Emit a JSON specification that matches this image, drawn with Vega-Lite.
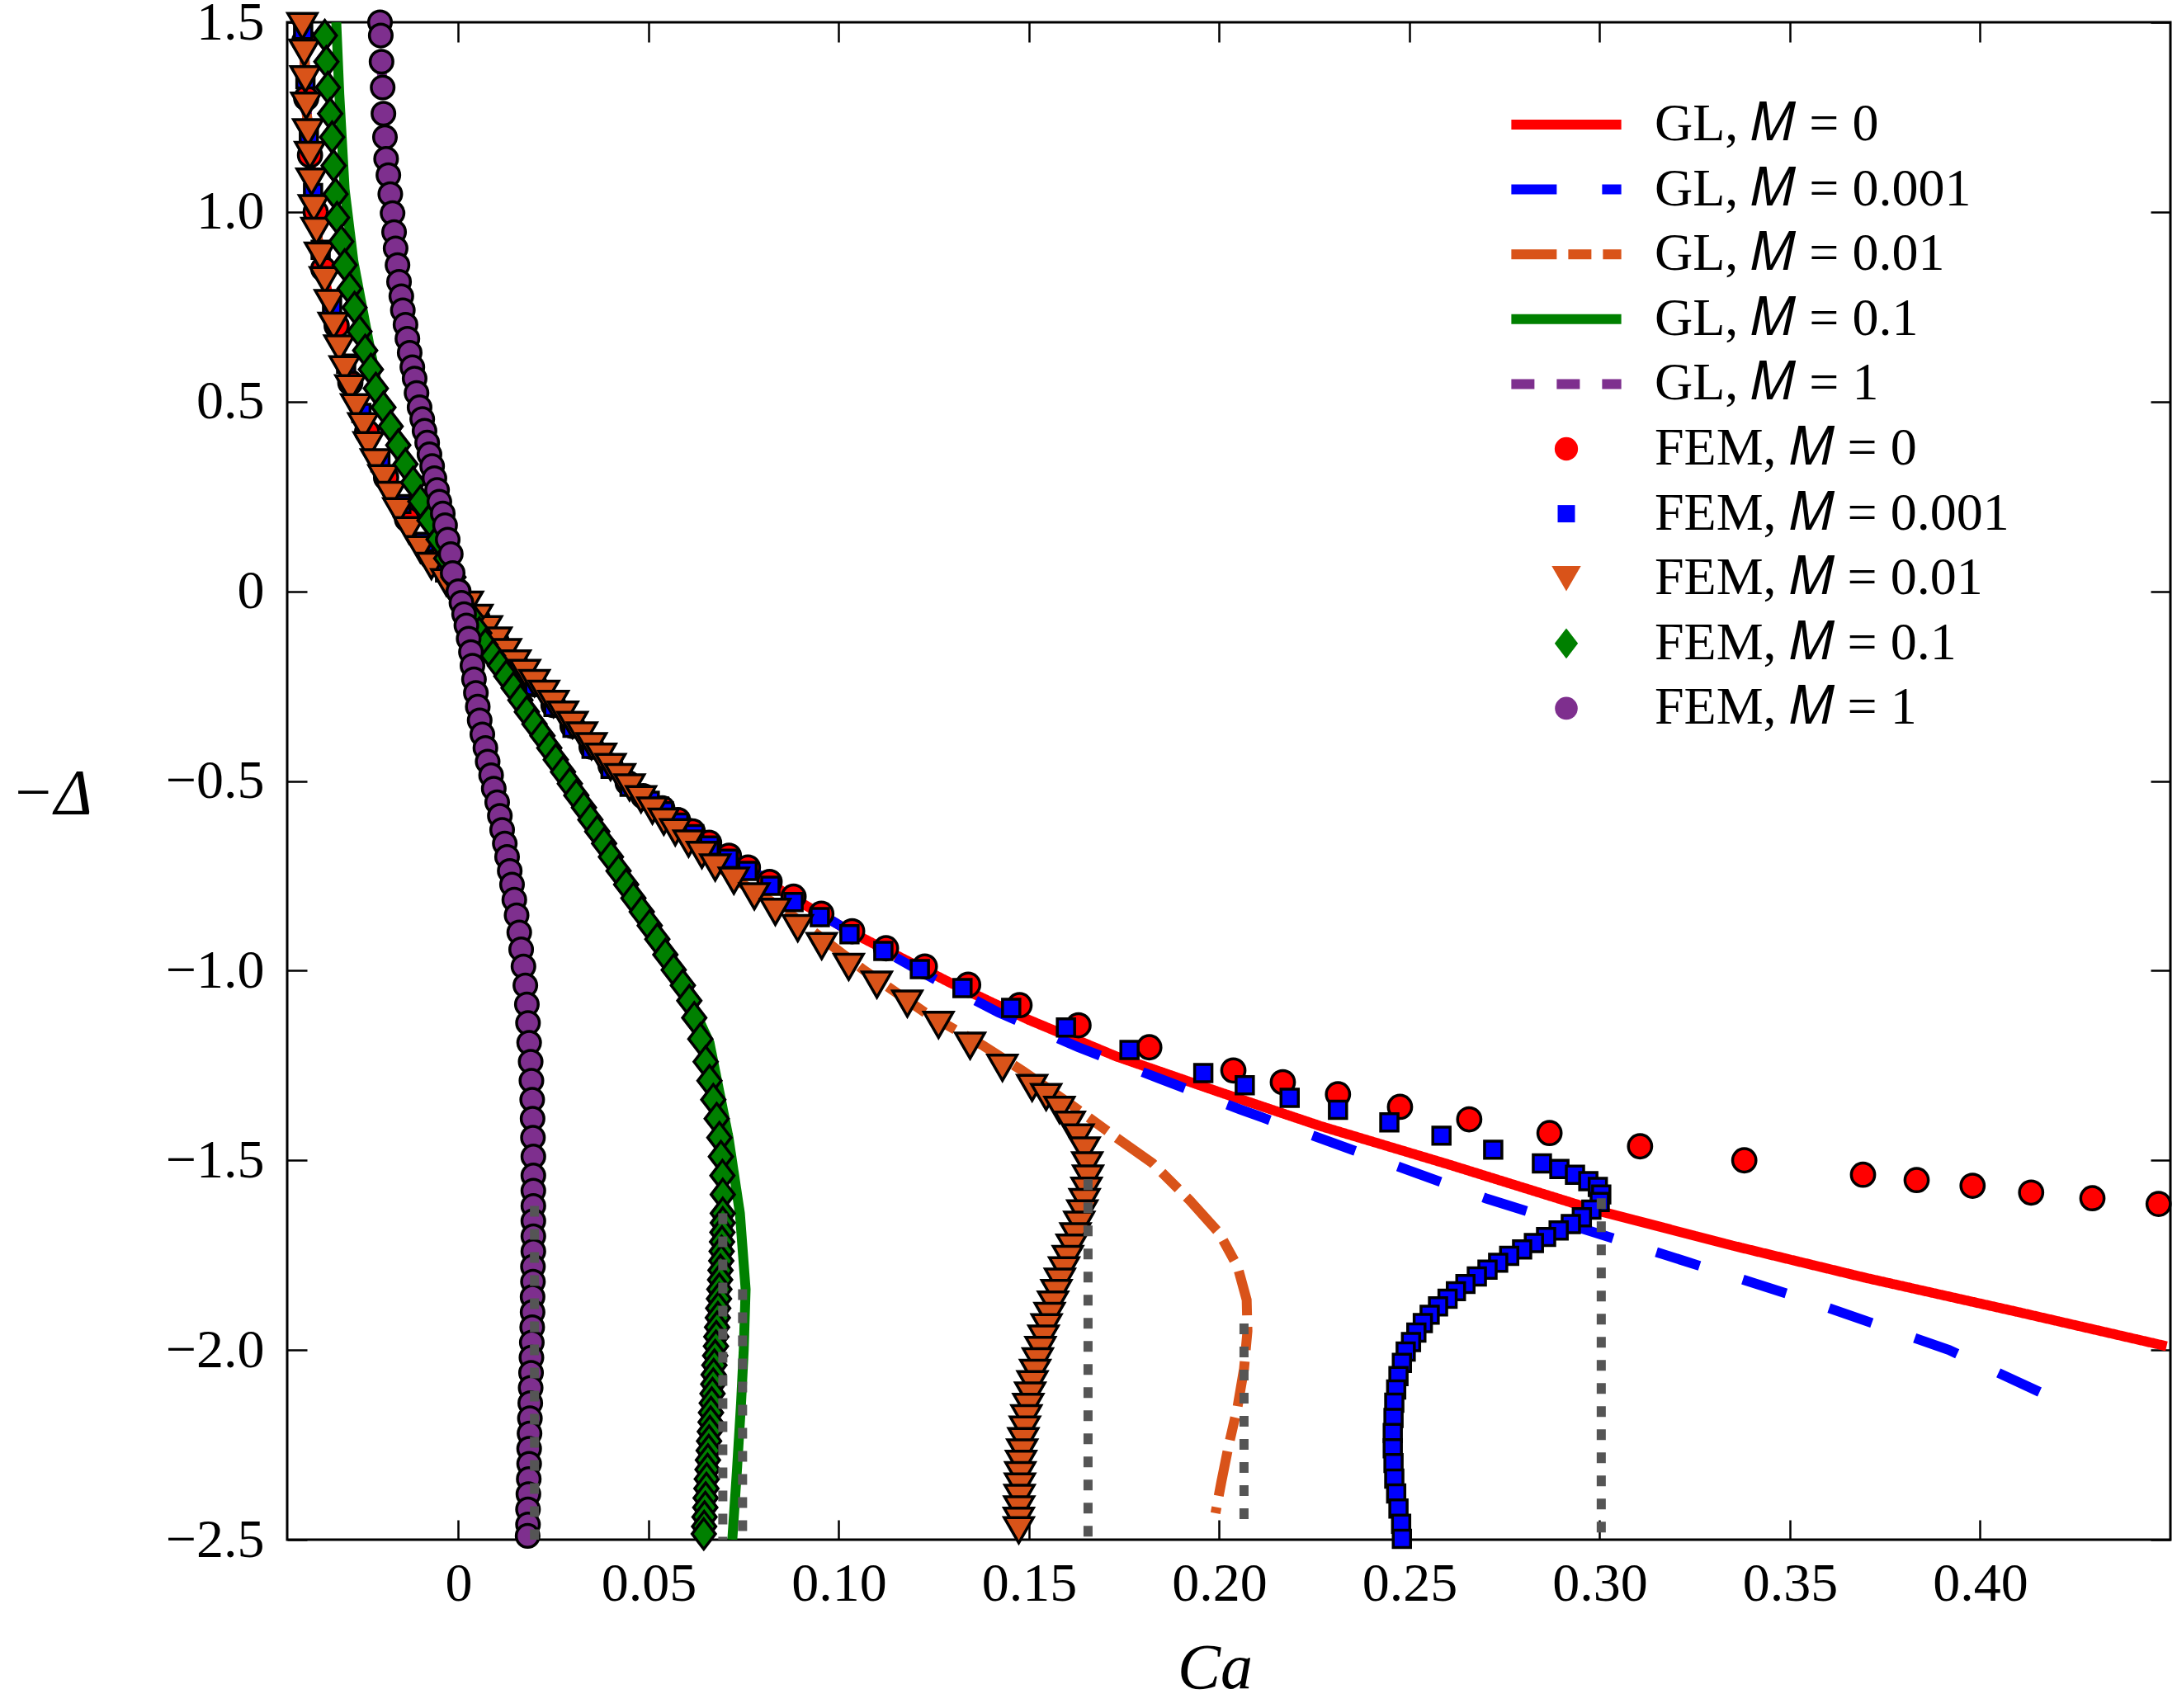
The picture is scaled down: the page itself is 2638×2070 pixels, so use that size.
{
  "$schema": "https://vega.github.io/schema/vega-lite/v6.json",
  "width": 2282,
  "height": 1839,
  "autosize": {"type": "none"},
  "padding": {"left": 348, "top": 27, "right": 8, "bottom": 204},
  "background": "white",
  "config": {
    "font": "Liberation Serif",
    "view": {"stroke": "black", "strokeWidth": 3},
    "axis": {
      "domain": false, "grid": false, "ticks": true, "tickSize": -24, "tickWidth": 2.5, "tickColor": "black",
      "labelFont": "Liberation Serif", "labelFontSize": 66, "labelColor": "black",
      "titleFont": "Liberation Serif", "titleFontSize": 78, "titleFontStyle": "italic", "titleFontWeight": "normal", "titleColor": "black"
    },
    "legend": {"labelFont": "Liberation Serif", "labelFontSize": 64, "labelColor": "black", "labelLimit": 1000, "padding": 0, "rowPadding": 14.6}
  },
  "datasets": {
    "gl": [
      {"M":"0","i":0,"ca":-0.041,"d":1.5},{"M":"0","i":1,"ca":-0.0405,"d":1.42},{"M":"0","i":2,"ca":-0.04,"d":1.28},{"M":"0","i":3,"ca":-0.039,"d":1.15},{"M":"0","i":4,"ca":-0.038,"d":1.01},{"M":"0","i":5,"ca":-0.0364,"d":0.885},{"M":"0","i":6,"ca":-0.0338,"d":0.76},{"M":"0","i":7,"ca":-0.0313,"d":0.64},{"M":"0","i":8,"ca":-0.0284,"d":0.535},{"M":"0","i":9,"ca":-0.025,"d":0.435},{"M":"0","i":10,"ca":-0.0217,"d":0.34},{"M":"0","i":11,"ca":-0.0178,"d":0.254},{"M":"0","i":12,"ca":-0.013,"d":0.161},{"M":"0","i":13,"ca":-0.0071,"d":0.067},{"M":"0","i":14,"ca":0,"d":0},
      {"M":"0","i":15,"ca":0.005,"d":-0.07},{"M":"0","i":16,"ca":0.01,"d":-0.13},{"M":"0","i":17,"ca":0.015,"d":-0.19},{"M":"0","i":18,"ca":0.02,"d":-0.242},{"M":"0","i":19,"ca":0.025,"d":-0.297},{"M":"0","i":20,"ca":0.03,"d":-0.352},{"M":"0","i":21,"ca":0.035,"d":-0.408},{"M":"0","i":22,"ca":0.04,"d":-0.463},{"M":"0","i":23,"ca":0.045,"d":-0.515},
      {"M":"0","i":24,"ca":0.0536,"d":-0.578},{"M":"0","i":25,"ca":0.0659,"d":-0.663},{"M":"0","i":26,"ca":0.0761,"d":-0.728},{"M":"0","i":27,"ca":0.0857,"d":-0.795},{"M":"0","i":28,"ca":0.1035,"d":-0.9},{"M":"0","i":29,"ca":0.1293,"d":-1.032},{"M":"0","i":30,"ca":0.15,"d":-1.13},{"M":"0","i":31,"ca":0.1729,"d":-1.226},{"M":"0","i":32,"ca":0.2,"d":-1.32},{"M":"0","i":33,"ca":0.2267,"d":-1.41},{"M":"0","i":34,"ca":0.26,"d":-1.51},{"M":"0","i":35,"ca":0.2985,"d":-1.63},{"M":"0","i":36,"ca":0.335,"d":-1.725},{"M":"0","i":37,"ca":0.37,"d":-1.81},{"M":"0","i":38,"ca":0.41,"d":-1.9},{"M":"0","i":39,"ca":0.449,"d":-1.99},

      {"M":"0.001","i":0,"ca":-0.041,"d":1.5},{"M":"0.001","i":1,"ca":-0.0405,"d":1.42},{"M":"0.001","i":2,"ca":-0.04,"d":1.28},{"M":"0.001","i":3,"ca":-0.039,"d":1.15},{"M":"0.001","i":4,"ca":-0.038,"d":1.01},{"M":"0.001","i":5,"ca":-0.0364,"d":0.885},{"M":"0.001","i":6,"ca":-0.0338,"d":0.76},{"M":"0.001","i":7,"ca":-0.0313,"d":0.64},{"M":"0.001","i":8,"ca":-0.0284,"d":0.535},{"M":"0.001","i":9,"ca":-0.025,"d":0.435},{"M":"0.001","i":10,"ca":-0.0217,"d":0.34},{"M":"0.001","i":11,"ca":-0.0178,"d":0.254},{"M":"0.001","i":12,"ca":-0.013,"d":0.161},{"M":"0.001","i":13,"ca":-0.0071,"d":0.067},{"M":"0.001","i":14,"ca":0,"d":0},
      {"M":"0.001","i":15,"ca":0.005,"d":-0.07},{"M":"0.001","i":16,"ca":0.01,"d":-0.13},{"M":"0.001","i":17,"ca":0.015,"d":-0.19},{"M":"0.001","i":18,"ca":0.02,"d":-0.242},{"M":"0.001","i":19,"ca":0.025,"d":-0.297},{"M":"0.001","i":20,"ca":0.03,"d":-0.352},{"M":"0.001","i":21,"ca":0.035,"d":-0.408},{"M":"0.001","i":22,"ca":0.04,"d":-0.463},{"M":"0.001","i":23,"ca":0.045,"d":-0.515},
      {"M":"0.001","i":24,"ca":0.0536,"d":-0.578},{"M":"0.001","i":25,"ca":0.0659,"d":-0.663},{"M":"0.001","i":26,"ca":0.0761,"d":-0.728},{"M":"0.001","i":27,"ca":0.0857,"d":-0.795},{"M":"0.001","i":28,"ca":0.1035,"d":-0.9},{"M":"0.001","i":29,"ca":0.1234,"d":-1.013},{"M":"0.001","i":30,"ca":0.1419,"d":-1.11},{"M":"0.001","i":31,"ca":0.163,"d":-1.202},{"M":"0.001","i":32,"ca":0.1844,"d":-1.285},{"M":"0.001","i":33,"ca":0.2058,"d":-1.367},{"M":"0.001","i":34,"ca":0.226,"d":-1.44},{"M":"0.001","i":35,"ca":0.27,"d":-1.6},{"M":"0.001","i":36,"ca":0.3093,"d":-1.724},{"M":"0.001","i":37,"ca":0.3516,"d":-1.859},{"M":"0.001","i":38,"ca":0.3918,"d":-2.0},{"M":"0.001","i":39,"ca":0.4176,"d":-2.12},

      {"M":"0.01","i":0,"ca":-0.041,"d":1.5},{"M":"0.01","i":1,"ca":-0.0405,"d":1.42},{"M":"0.01","i":2,"ca":-0.04,"d":1.28},{"M":"0.01","i":3,"ca":-0.039,"d":1.15},{"M":"0.01","i":4,"ca":-0.038,"d":1.01},{"M":"0.01","i":5,"ca":-0.0364,"d":0.885},{"M":"0.01","i":6,"ca":-0.0338,"d":0.76},{"M":"0.01","i":7,"ca":-0.0313,"d":0.64},{"M":"0.01","i":8,"ca":-0.0284,"d":0.535},{"M":"0.01","i":9,"ca":-0.025,"d":0.435},{"M":"0.01","i":10,"ca":-0.0217,"d":0.34},{"M":"0.01","i":11,"ca":-0.0178,"d":0.254},{"M":"0.01","i":12,"ca":-0.013,"d":0.161},{"M":"0.01","i":13,"ca":-0.0071,"d":0.067},{"M":"0.01","i":14,"ca":0,"d":0},
      {"M":"0.01","i":15,"ca":0.005,"d":-0.07},{"M":"0.01","i":16,"ca":0.01,"d":-0.13},{"M":"0.01","i":17,"ca":0.015,"d":-0.19},{"M":"0.01","i":18,"ca":0.02,"d":-0.242},{"M":"0.01","i":19,"ca":0.025,"d":-0.297},{"M":"0.01","i":20,"ca":0.03,"d":-0.352},{"M":"0.01","i":21,"ca":0.035,"d":-0.408},{"M":"0.01","i":22,"ca":0.04,"d":-0.463},{"M":"0.01","i":23,"ca":0.045,"d":-0.515},
      {"M":"0.01","i":24,"ca":0.05,"d":-0.565},{"M":"0.01","i":25,"ca":0.06,"d":-0.655},{"M":"0.01","i":26,"ca":0.072,"d":-0.755},{"M":"0.01","i":27,"ca":0.0857,"d":-0.839},{"M":"0.01","i":28,"ca":0.1065,"d":-0.998},{"M":"0.01","i":29,"ca":0.1226,"d":-1.11},{"M":"0.01","i":30,"ca":0.138,"d":-1.198},{"M":"0.01","i":31,"ca":0.1486,"d":-1.266},{"M":"0.01","i":32,"ca":0.161,"d":-1.353},{"M":"0.01","i":33,"ca":0.1729,"d":-1.44},{"M":"0.01","i":34,"ca":0.1825,"d":-1.508},{"M":"0.01","i":35,"ca":0.1922,"d":-1.605},{"M":"0.01","i":36,"ca":0.2,"d":-1.692},{"M":"0.01","i":37,"ca":0.2048,"d":-1.78},{"M":"0.01","i":38,"ca":0.2072,"d":-1.868},{"M":"0.01","i":39,"ca":0.2074,"d":-1.95},{"M":"0.01","i":40,"ca":0.2065,"d":-2.05},{"M":"0.01","i":41,"ca":0.2048,"d":-2.15},{"M":"0.01","i":42,"ca":0.2025,"d":-2.25},{"M":"0.01","i":43,"ca":0.2005,"d":-2.35},{"M":"0.01","i":44,"ca":0.199,"d":-2.43},

      {"M":"0.1","i":0,"ca":-0.0321,"d":1.5},{"M":"0.1","i":1,"ca":-0.0313,"d":1.31},{"M":"0.1","i":2,"ca":-0.0299,"d":1.06},{"M":"0.1","i":3,"ca":-0.0276,"d":0.87},{"M":"0.1","i":4,"ca":-0.024,"d":0.68},{"M":"0.1","i":5,"ca":-0.0205,"d":0.5},{"M":"0.1","i":6,"ca":-0.015,"d":0.34},{"M":"0.1","i":7,"ca":-0.009,"d":0.2},{"M":"0.1","i":8,"ca":-0.004,"d":0.09},{"M":"0.1","i":9,"ca":0,"d":0},{"M":"0.1","i":10,"ca":0.0071,"d":-0.141},{"M":"0.1","i":11,"ca":0.0163,"d":-0.287},{"M":"0.1","i":12,"ca":0.0256,"d":-0.444},{"M":"0.1","i":13,"ca":0.0347,"d":-0.602},{"M":"0.1","i":14,"ca":0.0441,"d":-0.773},{"M":"0.1","i":15,"ca":0.0523,"d":-0.917},{"M":"0.1","i":16,"ca":0.059,"d":-1.039},{"M":"0.1","i":17,"ca":0.066,"d":-1.19},{"M":"0.1","i":18,"ca":0.071,"d":-1.44},{"M":"0.1","i":19,"ca":0.074,"d":-1.64},{"M":"0.1","i":20,"ca":0.0755,"d":-1.84},{"M":"0.1","i":21,"ca":0.075,"d":-2.0},{"M":"0.1","i":22,"ca":0.0743,"d":-2.14},{"M":"0.1","i":23,"ca":0.0732,"d":-2.32},{"M":"0.1","i":24,"ca":0.072,"d":-2.5},

      {"M":"1","i":0,"ca":-0.0206,"d":1.5},{"M":"1","i":1,"ca":-0.0197,"d":1.259},{"M":"1","i":2,"ca":-0.0179,"d":1.047},{"M":"1","i":3,"ca":-0.016,"d":0.86},{"M":"1","i":4,"ca":-0.0139,"d":0.703},{"M":"1","i":5,"ca":-0.0115,"d":0.561},{"M":"1","i":6,"ca":-0.0089,"d":0.423},{"M":"1","i":7,"ca":-0.0063,"d":0.298},{"M":"1","i":8,"ca":-0.0041,"d":0.205},{"M":"1","i":9,"ca":-0.002,"d":0.098},{"M":"1","i":10,"ca":0,"d":0},{"M":"1","i":11,"ca":0.0033,"d":-0.16},{"M":"1","i":12,"ca":0.0051,"d":-0.304},{"M":"1","i":13,"ca":0.0077,"d":-0.449},{"M":"1","i":14,"ca":0.0102,"d":-0.556},{"M":"1","i":15,"ca":0.0122,"d":-0.665},{"M":"1","i":16,"ca":0.0141,"d":-0.773},{"M":"1","i":17,"ca":0.016,"d":-0.899},{"M":"1","i":18,"ca":0.0176,"d":-1.039},{"M":"1","i":19,"ca":0.0186,"d":-1.19},{"M":"1","i":20,"ca":0.0195,"d":-1.39},{"M":"1","i":21,"ca":0.0198,"d":-1.6},{"M":"1","i":22,"ca":0.0196,"d":-1.8},{"M":"1","i":23,"ca":0.0192,"d":-2.0},{"M":"1","i":24,"ca":0.0188,"d":-2.2},{"M":"1","i":25,"ca":0.0184,"d":-2.4},{"M":"1","i":26,"ca":0.0182,"d":-2.5}
    ],
    "fem": [
      {"F":"m0","ca":-0.0405,"d":1.45},{"F":"m0","ca":-0.04,"d":1.3},{"F":"m0","ca":-0.039,"d":1.15},{"F":"m0","ca":-0.0375,"d":1.0},{"F":"m0","ca":-0.0355,"d":0.85},{"F":"m0","ca":-0.032,"d":0.7},{"F":"m0","ca":-0.0284,"d":0.55},{"F":"m0","ca":-0.024,"d":0.42},{"F":"m0","ca":-0.019,"d":0.3},{"F":"m0","ca":-0.0135,"d":0.19},{"F":"m0","ca":-0.007,"d":0.09},{"F":"m0","ca":0,"d":0},
      {"F":"m0","ca":0.005,"d":-0.07},{"F":"m0","ca":0.01,"d":-0.13},{"F":"m0","ca":0.015,"d":-0.19},{"F":"m0","ca":0.02,"d":-0.245},{"F":"m0","ca":0.025,"d":-0.3},{"F":"m0","ca":0.03,"d":-0.355},{"F":"m0","ca":0.035,"d":-0.41},{"F":"m0","ca":0.04,"d":-0.46},{"F":"m0","ca":0.0445,"d":-0.505},{"F":"m0","ca":0.0486,"d":-0.54},{"F":"m0","ca":0.0536,"d":-0.572},{"F":"m0","ca":0.0577,"d":-0.603},{"F":"m0","ca":0.0616,"d":-0.633},{"F":"m0","ca":0.0659,"d":-0.663},{"F":"m0","ca":0.0711,"d":-0.697},{"F":"m0","ca":0.0761,"d":-0.728},{"F":"m0","ca":0.0818,"d":-0.766},{"F":"m0","ca":0.0881,"d":-0.805},{"F":"m0","ca":0.0954,"d":-0.85},{"F":"m0","ca":0.1035,"d":-0.896},{"F":"m0","ca":0.1124,"d":-0.941},{"F":"m0","ca":0.1226,"d":-0.989},{"F":"m0","ca":0.134,"d":-1.037},{"F":"m0","ca":0.1475,"d":-1.091},{"F":"m0","ca":0.163,"d":-1.144},{"F":"m0","ca":0.1816,"d":-1.202},{"F":"m0","ca":0.2037,"d":-1.263},{"F":"m0","ca":0.2167,"d":-1.294},{"F":"m0","ca":0.2312,"d":-1.326},{"F":"m0","ca":0.2475,"d":-1.359},{"F":"m0","ca":0.2657,"d":-1.392},{"F":"m0","ca":0.2868,"d":-1.428},{"F":"m0","ca":0.3106,"d":-1.463},{"F":"m0","ca":0.338,"d":-1.5},{"F":"m0","ca":0.3692,"d":-1.538},{"F":"m0","ca":0.3833,"d":-1.552},{"F":"m0","ca":0.398,"d":-1.567},{"F":"m0","ca":0.4134,"d":-1.585},{"F":"m0","ca":0.4295,"d":-1.6},{"F":"m0","ca":0.4469,"d":-1.615},

      {"F":"m0.001","ca":-0.0408,"d":1.48},{"F":"m0.001","ca":-0.0402,"d":1.35},{"F":"m0.001","ca":-0.0393,"d":1.2},{"F":"m0.001","ca":-0.0382,"d":1.05},{"F":"m0.001","ca":-0.0362,"d":0.9},{"F":"m0.001","ca":-0.0332,"d":0.75},{"F":"m0.001","ca":-0.0295,"d":0.6},{"F":"m0.001","ca":-0.0255,"d":0.47},{"F":"m0.001","ca":-0.0205,"d":0.34},{"F":"m0.001","ca":-0.015,"d":0.23},{"F":"m0.001","ca":-0.009,"d":0.13},{"F":"m0.001","ca":-0.0035,"d":0.05},
      {"F":"m0.001","ca":0.005,"d":-0.075},{"F":"m0.001","ca":0.01,"d":-0.135},{"F":"m0.001","ca":0.015,"d":-0.195},{"F":"m0.001","ca":0.02,"d":-0.25},{"F":"m0.001","ca":0.025,"d":-0.305},{"F":"m0.001","ca":0.03,"d":-0.36},{"F":"m0.001","ca":0.035,"d":-0.415},{"F":"m0.001","ca":0.04,"d":-0.468},{"F":"m0.001","ca":0.045,"d":-0.515},{"F":"m0.001","ca":0.0503,"d":-0.552},{"F":"m0.001","ca":0.054,"d":-0.58},{"F":"m0.001","ca":0.058,"d":-0.61},{"F":"m0.001","ca":0.062,"d":-0.64},{"F":"m0.001","ca":0.066,"d":-0.67},{"F":"m0.001","ca":0.071,"d":-0.705},{"F":"m0.001","ca":0.076,"d":-0.737},{"F":"m0.001","ca":0.082,"d":-0.776},{"F":"m0.001","ca":0.0881,"d":-0.819},{"F":"m0.001","ca":0.095,"d":-0.859},{"F":"m0.001","ca":0.1028,"d":-0.904},{"F":"m0.001","ca":0.1117,"d":-0.948},{"F":"m0.001","ca":0.1213,"d":-0.996},{"F":"m0.001","ca":0.1325,"d":-1.046},{"F":"m0.001","ca":0.1453,"d":-1.098},{"F":"m0.001","ca":0.1597,"d":-1.15},{"F":"m0.001","ca":0.1764,"d":-1.209},{"F":"m0.001","ca":0.1958,"d":-1.27},{"F":"m0.001","ca":0.2067,"d":-1.302},{"F":"m0.001","ca":0.2185,"d":-1.335},{"F":"m0.001","ca":0.2312,"d":-1.367},{"F":"m0.001","ca":0.2447,"d":-1.4},{"F":"m0.001","ca":0.2584,"d":-1.435},{"F":"m0.001","ca":0.272,"d":-1.472},{"F":"m0.001","ca":0.2848,"d":-1.508},{"F":"m0.001","ca":0.2894,"d":-1.523},{"F":"m0.001","ca":0.2935,"d":-1.538},{"F":"m0.001","ca":0.297,"d":-1.555},{"F":"m0.001","ca":0.2995,"d":-1.57},{"F":"m0.001","ca":0.3004,"d":-1.59},{"F":"m0.001","ca":0.3,"d":-1.61},{"F":"m0.001","ca":0.2978,"d":-1.63},{"F":"m0.001","ca":0.2953,"d":-1.65},{"F":"m0.001","ca":0.2924,"d":-1.668},{"F":"m0.001","ca":0.2892,"d":-1.685},{"F":"m0.001","ca":0.2859,"d":-1.702},{"F":"m0.001","ca":0.2827,"d":-1.718},{"F":"m0.001","ca":0.2796,"d":-1.735},{"F":"m0.001","ca":0.2762,"d":-1.752},{"F":"m0.001","ca":0.2733,"d":-1.77},{"F":"m0.001","ca":0.2705,"d":-1.788},{"F":"m0.001","ca":0.2677,"d":-1.806},{"F":"m0.001","ca":0.2647,"d":-1.826},{"F":"m0.001","ca":0.2622,"d":-1.845},{"F":"m0.001","ca":0.26,"d":-1.865},{"F":"m0.001","ca":0.2575,"d":-1.885},{"F":"m0.001","ca":0.2553,"d":-1.907},{"F":"m0.001","ca":0.2535,"d":-1.929},{"F":"m0.001","ca":0.2518,"d":-1.954},{"F":"m0.001","ca":0.2504,"d":-1.979},{"F":"m0.001","ca":0.249,"d":-2.004},{"F":"m0.001","ca":0.248,"d":-2.034},{"F":"m0.001","ca":0.2471,"d":-2.069},{"F":"m0.001","ca":0.2465,"d":-2.104},{"F":"m0.001","ca":0.246,"d":-2.139},{"F":"m0.001","ca":0.2458,"d":-2.179},{"F":"m0.001","ca":0.2456,"d":-2.219},{"F":"m0.001","ca":0.2456,"d":-2.259},{"F":"m0.001","ca":0.2458,"d":-2.298},{"F":"m0.001","ca":0.246,"d":-2.339},{"F":"m0.001","ca":0.2465,"d":-2.378},{"F":"m0.001","ca":0.2471,"d":-2.418},{"F":"m0.001","ca":0.2478,"d":-2.458},{"F":"m0.001","ca":0.248,"d":-2.498},

      {"F":"m0.01","ca":-0.041,"d":1.49},{"F":"m0.01","ca":-0.0405,"d":1.42},{"F":"m0.01","ca":-0.0402,"d":1.35},{"F":"m0.01","ca":-0.04,"d":1.28},{"F":"m0.01","ca":-0.0395,"d":1.21},{"F":"m0.01","ca":-0.039,"d":1.15},{"F":"m0.01","ca":-0.0386,"d":1.08},{"F":"m0.01","ca":-0.038,"d":1.01},{"F":"m0.01","ca":-0.0373,"d":0.95},{"F":"m0.01","ca":-0.0364,"d":0.885},{"F":"m0.01","ca":-0.0351,"d":0.82},{"F":"m0.01","ca":-0.0338,"d":0.76},{"F":"m0.01","ca":-0.0328,"d":0.7},{"F":"m0.01","ca":-0.0313,"d":0.64},{"F":"m0.01","ca":-0.0299,"d":0.585},{"F":"m0.01","ca":-0.0284,"d":0.535},{"F":"m0.01","ca":-0.0269,"d":0.485},{"F":"m0.01","ca":-0.025,"d":0.435},{"F":"m0.01","ca":-0.0236,"d":0.385},{"F":"m0.01","ca":-0.0217,"d":0.34},{"F":"m0.01","ca":-0.0197,"d":0.298},{"F":"m0.01","ca":-0.0178,"d":0.254},{"F":"m0.01","ca":-0.0158,"d":0.211},{"F":"m0.01","ca":-0.013,"d":0.161},{"F":"m0.01","ca":-0.01,"d":0.111},{"F":"m0.01","ca":-0.0071,"d":0.067},{"F":"m0.01","ca":-0.0032,"d":0.024},
      {"F":"m0.01","ca":0.0025,"d":-0.035},{"F":"m0.01","ca":0.005,"d":-0.07},{"F":"m0.01","ca":0.0075,"d":-0.1},{"F":"m0.01","ca":0.01,"d":-0.13},{"F":"m0.01","ca":0.0125,"d":-0.16},{"F":"m0.01","ca":0.015,"d":-0.19},{"F":"m0.01","ca":0.0175,"d":-0.215},{"F":"m0.01","ca":0.02,"d":-0.242},{"F":"m0.01","ca":0.0225,"d":-0.27},{"F":"m0.01","ca":0.025,"d":-0.297},{"F":"m0.01","ca":0.0275,"d":-0.325},{"F":"m0.01","ca":0.03,"d":-0.352},{"F":"m0.01","ca":0.0325,"d":-0.38},{"F":"m0.01","ca":0.035,"d":-0.408},{"F":"m0.01","ca":0.0375,"d":-0.436},{"F":"m0.01","ca":0.04,"d":-0.463},{"F":"m0.01","ca":0.0425,"d":-0.49},{"F":"m0.01","ca":0.045,"d":-0.517},{"F":"m0.01","ca":0.048,"d":-0.548},{"F":"m0.01","ca":0.051,"d":-0.578},{"F":"m0.01","ca":0.054,"d":-0.607},{"F":"m0.01","ca":0.057,"d":-0.635},{"F":"m0.01","ca":0.0605,"d":-0.665},{"F":"m0.01","ca":0.064,"d":-0.695},{"F":"m0.01","ca":0.0675,"d":-0.728},{"F":"m0.01","ca":0.0724,"d":-0.763},{"F":"m0.01","ca":0.0778,"d":-0.804},{"F":"m0.01","ca":0.0833,"d":-0.845},{"F":"m0.01","ca":0.0892,"d":-0.888},{"F":"m0.01","ca":0.0955,"d":-0.935},{"F":"m0.01","ca":0.1026,"d":-0.99},{"F":"m0.01","ca":0.11,"d":-1.037},{"F":"m0.01","ca":0.118,"d":-1.087},{"F":"m0.01","ca":0.1262,"d":-1.143},{"F":"m0.01","ca":0.1345,"d":-1.198},{"F":"m0.01","ca":0.143,"d":-1.256},{"F":"m0.01","ca":0.1508,"d":-1.309},{"F":"m0.01","ca":0.1545,"d":-1.333},{"F":"m0.01","ca":0.158,"d":-1.367},{"F":"m0.01","ca":0.1607,"d":-1.406},{"F":"m0.01","ca":0.163,"d":-1.44},{"F":"m0.01","ca":0.1646,"d":-1.474},{"F":"m0.01","ca":0.1653,"d":-1.513},{"F":"m0.01","ca":0.1655,"d":-1.548},
      {"F":"m0.01","ca":0.1651,"d":-1.58},{"F":"m0.01","ca":0.1646,"d":-1.61},{"F":"m0.01","ca":0.164,"d":-1.64},{"F":"m0.01","ca":0.1632,"d":-1.67},{"F":"m0.01","ca":0.1622,"d":-1.7},{"F":"m0.01","ca":0.1612,"d":-1.73},{"F":"m0.01","ca":0.1602,"d":-1.76},{"F":"m0.01","ca":0.1592,"d":-1.79},{"F":"m0.01","ca":0.1581,"d":-1.82},{"F":"m0.01","ca":0.1572,"d":-1.85},{"F":"m0.01","ca":0.1563,"d":-1.88},{"F":"m0.01","ca":0.1554,"d":-1.91},{"F":"m0.01","ca":0.1546,"d":-1.94},{"F":"m0.01","ca":0.1538,"d":-1.97},{"F":"m0.01","ca":0.153,"d":-2.0},{"F":"m0.01","ca":0.1523,"d":-2.03},{"F":"m0.01","ca":0.1516,"d":-2.06},{"F":"m0.01","ca":0.1509,"d":-2.09},{"F":"m0.01","ca":0.1503,"d":-2.12},{"F":"m0.01","ca":0.1498,"d":-2.15},{"F":"m0.01","ca":0.1493,"d":-2.18},{"F":"m0.01","ca":0.1489,"d":-2.21},{"F":"m0.01","ca":0.1485,"d":-2.24},{"F":"m0.01","ca":0.1482,"d":-2.27},{"F":"m0.01","ca":0.1479,"d":-2.3},{"F":"m0.01","ca":0.1477,"d":-2.33},{"F":"m0.01","ca":0.1476,"d":-2.36},{"F":"m0.01","ca":0.1475,"d":-2.39},{"F":"m0.01","ca":0.1474,"d":-2.42},{"F":"m0.01","ca":0.1473,"d":-2.45},{"F":"m0.01","ca":0.1473,"d":-2.475},

      {"F":"m0.1","ca":-0.0351,"d":1.465},{"F":"m0.1","ca":-0.0347,"d":1.396},{"F":"m0.1","ca":-0.0343,"d":1.328},{"F":"m0.1","ca":-0.0337,"d":1.259},{"F":"m0.1","ca":-0.0332,"d":1.197},{"F":"m0.1","ca":-0.0328,"d":1.122},{"F":"m0.1","ca":-0.0323,"d":1.047},{"F":"m0.1","ca":-0.0319,"d":0.985},{"F":"m0.1","ca":-0.0308,"d":0.922},{"F":"m0.1","ca":-0.0299,"d":0.86},{"F":"m0.1","ca":-0.0286,"d":0.798},{"F":"m0.1","ca":-0.0273,"d":0.748},{"F":"m0.1","ca":-0.026,"d":0.685},{"F":"m0.1","ca":-0.0245,"d":0.635},{"F":"m0.1","ca":-0.023,"d":0.585},{"F":"m0.1","ca":-0.0217,"d":0.535},{"F":"m0.1","ca":-0.0197,"d":0.485},{"F":"m0.1","ca":-0.0178,"d":0.435},{"F":"m0.1","ca":-0.0158,"d":0.385},{"F":"m0.1","ca":-0.0139,"d":0.335},{"F":"m0.1","ca":-0.0119,"d":0.287},{"F":"m0.1","ca":-0.01,"d":0.237},{"F":"m0.1","ca":-0.0076,"d":0.187},{"F":"m0.1","ca":-0.0052,"d":0.137},{"F":"m0.1","ca":-0.0032,"d":0.087},{"F":"m0.1","ca":-0.0013,"d":0.037},{"F":"m0.1","ca":0,"d":0},
      {"F":"m0.1","ca":0.0035,"d":-0.07},{"F":"m0.1","ca":0.0055,"d":-0.11},{"F":"m0.1","ca":0.0071,"d":-0.141},{"F":"m0.1","ca":0.0091,"d":-0.17},{"F":"m0.1","ca":0.0109,"d":-0.196},{"F":"m0.1","ca":0.0126,"d":-0.224},{"F":"m0.1","ca":0.0145,"d":-0.255},{"F":"m0.1","ca":0.0163,"d":-0.287},{"F":"m0.1","ca":0.018,"d":-0.318},{"F":"m0.1","ca":0.02,"d":-0.35},{"F":"m0.1","ca":0.0221,"d":-0.381},{"F":"m0.1","ca":0.0239,"d":-0.413},{"F":"m0.1","ca":0.0256,"d":-0.444},{"F":"m0.1","ca":0.0275,"d":-0.476},{"F":"m0.1","ca":0.0293,"d":-0.507},{"F":"m0.1","ca":0.031,"d":-0.538},{"F":"m0.1","ca":0.033,"d":-0.57},{"F":"m0.1","ca":0.0347,"d":-0.602},{"F":"m0.1","ca":0.0365,"d":-0.633},{"F":"m0.1","ca":0.0383,"d":-0.665},{"F":"m0.1","ca":0.0401,"d":-0.7},{"F":"m0.1","ca":0.0421,"d":-0.737},{"F":"m0.1","ca":0.0441,"d":-0.773},{"F":"m0.1","ca":0.046,"d":-0.809},{"F":"m0.1","ca":0.0482,"d":-0.845},{"F":"m0.1","ca":0.0503,"d":-0.881},{"F":"m0.1","ca":0.0523,"d":-0.917},{"F":"m0.1","ca":0.0544,"d":-0.958},{"F":"m0.1","ca":0.0566,"d":-0.998},{"F":"m0.1","ca":0.059,"d":-1.039},{"F":"m0.1","ca":0.0607,"d":-1.079},{"F":"m0.1","ca":0.062,"d":-1.124},
      {"F":"m0.1","ca":0.0636,"d":-1.18},{"F":"m0.1","ca":0.065,"d":-1.24},{"F":"m0.1","ca":0.066,"d":-1.29},{"F":"m0.1","ca":0.067,"d":-1.34},{"F":"m0.1","ca":0.0679,"d":-1.39},{"F":"m0.1","ca":0.0686,"d":-1.44},{"F":"m0.1","ca":0.069,"d":-1.49},{"F":"m0.1","ca":0.0694,"d":-1.54},{"F":"m0.1","ca":0.0695,"d":-1.59},{"F":"m0.1","ca":0.0695,"d":-1.64},
      {"F":"m0.1","ca":0.0695,"d":-1.665},{"F":"m0.1","ca":0.0694,"d":-1.69},{"F":"m0.1","ca":0.0693,"d":-1.715},{"F":"m0.1","ca":0.0692,"d":-1.74},{"F":"m0.1","ca":0.0691,"d":-1.765},{"F":"m0.1","ca":0.0689,"d":-1.79},{"F":"m0.1","ca":0.0688,"d":-1.815},{"F":"m0.1","ca":0.0686,"d":-1.84},{"F":"m0.1","ca":0.0685,"d":-1.865},{"F":"m0.1","ca":0.0683,"d":-1.89},{"F":"m0.1","ca":0.0682,"d":-1.915},{"F":"m0.1","ca":0.068,"d":-1.94},{"F":"m0.1","ca":0.0678,"d":-1.965},{"F":"m0.1","ca":0.0677,"d":-1.99},{"F":"m0.1","ca":0.0675,"d":-2.015},{"F":"m0.1","ca":0.0673,"d":-2.04},{"F":"m0.1","ca":0.0671,"d":-2.065},{"F":"m0.1","ca":0.067,"d":-2.09},{"F":"m0.1","ca":0.0668,"d":-2.115},{"F":"m0.1","ca":0.0666,"d":-2.14},{"F":"m0.1","ca":0.0664,"d":-2.165},{"F":"m0.1","ca":0.0663,"d":-2.19},{"F":"m0.1","ca":0.0661,"d":-2.215},{"F":"m0.1","ca":0.0659,"d":-2.24},{"F":"m0.1","ca":0.0658,"d":-2.265},{"F":"m0.1","ca":0.0656,"d":-2.29},{"F":"m0.1","ca":0.0655,"d":-2.315},{"F":"m0.1","ca":0.0653,"d":-2.34},{"F":"m0.1","ca":0.0652,"d":-2.365},{"F":"m0.1","ca":0.065,"d":-2.39},{"F":"m0.1","ca":0.0649,"d":-2.415},{"F":"m0.1","ca":0.0647,"d":-2.44},{"F":"m0.1","ca":0.0646,"d":-2.465},{"F":"m0.1","ca":0.0645,"d":-2.485},

      {"F":"m1","ca":-0.0206,"d":1.5},{"F":"m1","ca":-0.0204,"d":1.465},{"F":"m1","ca":-0.0202,"d":1.396},{"F":"m1","ca":-0.0199,"d":1.328},{"F":"m1","ca":-0.0197,"d":1.259},{"F":"m1","ca":-0.0193,"d":1.197},{"F":"m1","ca":-0.019,"d":1.14},{"F":"m1","ca":-0.0184,"d":1.097},{"F":"m1","ca":-0.0179,"d":1.047},{"F":"m1","ca":-0.0173,"d":0.997},{"F":"m1","ca":-0.0169,"d":0.947},{"F":"m1","ca":-0.0165,"d":0.904},{"F":"m1","ca":-0.016,"d":0.86},{"F":"m1","ca":-0.0156,"d":0.816},{"F":"m1","ca":-0.015,"d":0.778},{"F":"m1","ca":-0.0146,"d":0.741},{"F":"m1","ca":-0.0139,"d":0.703},{"F":"m1","ca":-0.0134,"d":0.666},{"F":"m1","ca":-0.0128,"d":0.629},{"F":"m1","ca":-0.0121,"d":0.591},{"F":"m1","ca":-0.0115,"d":0.561},{"F":"m1","ca":-0.011,"d":0.523},{"F":"m1","ca":-0.0102,"d":0.485},{"F":"m1","ca":-0.0095,"d":0.454},{"F":"m1","ca":-0.0089,"d":0.423},{"F":"m1","ca":-0.0082,"d":0.392},{"F":"m1","ca":-0.0076,"d":0.361},{"F":"m1","ca":-0.0069,"d":0.33},{"F":"m1","ca":-0.0063,"d":0.298},{"F":"m1","ca":-0.0056,"d":0.267},{"F":"m1","ca":-0.005,"d":0.236},{"F":"m1","ca":-0.0041,"d":0.205},{"F":"m1","ca":-0.0035,"d":0.174},{"F":"m1","ca":-0.0028,"d":0.136},{"F":"m1","ca":-0.002,"d":0.098},{"F":"m1","ca":-0.0015,"d":0.048},{"F":"m1","ca":0,"d":0},
      {"F":"m1","ca":0.0008,"d":-0.03},{"F":"m1","ca":0.0015,"d":-0.06},{"F":"m1","ca":0.0021,"d":-0.09},{"F":"m1","ca":0.0027,"d":-0.125},{"F":"m1","ca":0.0033,"d":-0.16},{"F":"m1","ca":0.0037,"d":-0.196},{"F":"m1","ca":0.0041,"d":-0.232},{"F":"m1","ca":0.0046,"d":-0.268},{"F":"m1","ca":0.0051,"d":-0.304},{"F":"m1","ca":0.0056,"d":-0.34},{"F":"m1","ca":0.0063,"d":-0.377},{"F":"m1","ca":0.0071,"d":-0.413},{"F":"m1","ca":0.0077,"d":-0.449},{"F":"m1","ca":0.0086,"d":-0.485},{"F":"m1","ca":0.0093,"d":-0.52},{"F":"m1","ca":0.0102,"d":-0.556},{"F":"m1","ca":0.0109,"d":-0.592},{"F":"m1","ca":0.0115,"d":-0.629},{"F":"m1","ca":0.0122,"d":-0.665},{"F":"m1","ca":0.0128,"d":-0.7},{"F":"m1","ca":0.0135,"d":-0.737},{"F":"m1","ca":0.0141,"d":-0.773},{"F":"m1","ca":0.0147,"d":-0.813},{"F":"m1","ca":0.0153,"d":-0.854},{"F":"m1","ca":0.016,"d":-0.899},{"F":"m1","ca":0.0165,"d":-0.944},{"F":"m1","ca":0.0171,"d":-0.989},{"F":"m1","ca":0.0176,"d":-1.039},{"F":"m1","ca":0.018,"d":-1.089},{"F":"m1","ca":0.0183,"d":-1.138},
      {"F":"m1","ca":0.0186,"d":-1.19},{"F":"m1","ca":0.019,"d":-1.24},{"F":"m1","ca":0.0192,"d":-1.29},{"F":"m1","ca":0.0194,"d":-1.34},{"F":"m1","ca":0.0195,"d":-1.39},{"F":"m1","ca":0.0196,"d":-1.44},{"F":"m1","ca":0.0197,"d":-1.49},{"F":"m1","ca":0.0197,"d":-1.54},{"F":"m1","ca":0.0197,"d":-1.58},{"F":"m1","ca":0.0197,"d":-1.62},{"F":"m1","ca":0.0197,"d":-1.66},{"F":"m1","ca":0.0197,"d":-1.7},{"F":"m1","ca":0.0197,"d":-1.74},{"F":"m1","ca":0.0196,"d":-1.78},{"F":"m1","ca":0.0196,"d":-1.82},{"F":"m1","ca":0.0195,"d":-1.86},{"F":"m1","ca":0.0195,"d":-1.9},{"F":"m1","ca":0.0194,"d":-1.94},{"F":"m1","ca":0.0193,"d":-1.98},{"F":"m1","ca":0.0192,"d":-2.02},{"F":"m1","ca":0.0191,"d":-2.06},{"F":"m1","ca":0.019,"d":-2.1},{"F":"m1","ca":0.0189,"d":-2.14},{"F":"m1","ca":0.0188,"d":-2.18},{"F":"m1","ca":0.0187,"d":-2.22},{"F":"m1","ca":0.0186,"d":-2.26},{"F":"m1","ca":0.0186,"d":-2.3},{"F":"m1","ca":0.0185,"d":-2.34},{"F":"m1","ca":0.0184,"d":-2.38},{"F":"m1","ca":0.0183,"d":-2.42},{"F":"m1","ca":0.0183,"d":-2.46},{"F":"m1","ca":0.0182,"d":-2.49}
    ],
    "asym": [
      {"ca":0.02,"d":-1.62,"d2":-2.5},
      {"ca":0.0695,"d":-1.64,"d2":-2.5},
      {"ca":0.0747,"d":-1.84,"d2":-2.5},
      {"ca":0.1655,"d":-1.55,"d2":-2.5},
      {"ca":0.2065,"d":-1.93,"d2":-2.46},
      {"ca":0.3004,"d":-1.6,"d2":-2.5}
    ]
  },
  "resolve": {"axis": {"x": "independent", "y": "independent"}},
  "layer": [
    {
      "data": {"name": "gl"},
      "mark": {"type": "line", "strokeWidth": 12, "clip": true, "strokeCap": "butt"},
      "encoding": {
        "x": {"field": "ca", "type": "quantitative", "title": "Ca",
          "scale": {"domain": [-0.045, 0.45], "nice": false, "zero": false},
          "axis": {"orient": "bottom", "values": [0, 0.05, 0.1, 0.15, 0.2, 0.25, 0.3, 0.35, 0.4],
            "labelExpr": "datum.value == 0 ? '0' : format(datum.value, '.2f')", "labelPadding": 45,
            "titleX": 1124, "titleY": 179, "titleAlign": "center", "titleBaseline": "alphabetic"}},
        "y": {"field": "d", "type": "quantitative", "title": "−Δ",
          "scale": {"domain": [-2.5, 1.5], "nice": false, "zero": false},
          "axis": {"orient": "left", "values": [-2.5, -2, -1.5, -1, -0.5, 0, 0.5, 1, 1.5],
            "labelExpr": "datum.value == 0 ? '0' : format(datum.value, '.1f')", "labelPadding": 52,
            "titleAngle": 0, "titleX": -286, "titleY": 958, "titleAlign": "center", "titleBaseline": "alphabetic"}},
        "order": {"field": "i", "type": "quantitative"},
        "stroke": {"field": "M", "type": "nominal",
          "scale": {"domain": ["0", "0.001", "0.01", "0.1", "1"], "range": ["#ff0000", "#0000ff", "#d95319", "#008000", "#7e2f8e"]},
          "legend": {"orient": "none", "legendX": 1518, "legendY": 92, "title": null, "symbolType": "M-3.6,0H3.6", "symbolSize": 1370, "symbolStrokeWidth": 12, "labelOffset": 75, "labelExpr": "'GL, 𝑀 = ' + datum.label"}},
        "strokeDash": {"field": "M", "type": "nominal",
          "scale": {"domain": ["0", "0.001", "0.01", "0.1", "1"], "range": [[1, 0], [55, 55], [55, 14, 28, 14], [1, 0], [28, 27]]},
          "legend": {"orient": "none", "legendX": 1518, "legendY": 92, "title": null, "symbolType": "M-3.6,0H3.6", "symbolSize": 1370, "symbolStrokeWidth": 12, "labelOffset": 75, "labelExpr": "'GL, 𝑀 = ' + datum.label"}}
      }
    },
    {
      "data": {"name": "fem"},
      "mark": {"type": "point", "filled": true, "stroke": "black", "strokeWidth": 3.5, "opacity": 1},
      "encoding": {
        "x": {"field": "ca", "type": "quantitative",
          "axis": {"orient": "top", "values": [0, 0.05, 0.1, 0.15, 0.2, 0.25, 0.3, 0.35, 0.4], "labels": false, "title": null}},
        "y": {"field": "d", "type": "quantitative",
          "axis": {"orient": "right", "values": [-2.5, -2, -1.5, -1, -0.5, 0, 0.5, 1, 1.5], "labels": false, "title": null}},
        "fill": {"field": "F", "type": "nominal",
          "scale": {"domain": ["m0", "m0.001", "m0.01", "m0.1", "m1"], "range": ["#ff0000", "#0000ff", "#d95319", "#008000", "#7e2f8e"]},
          "legend": {"orient": "none", "legendX": 1518, "legendY": 485, "title": null, "symbolStrokeColor": "black", "symbolStrokeWidth": 3, "labelOffset": 75, "labelExpr": "'FEM, 𝑀 = ' + slice(datum.label, 1)",
            "encode": {"symbols": {"stroke": {"value": "black"}, "strokeWidth": {"value": 3}, "opacity": {"value": 1}}}}},
        "shape": {"field": "F", "type": "nominal",
          "scale": {"domain": ["m0", "m0.001", "m0.01", "m0.1", "m1"], "range": ["circle", "square", "triangle-down", "M0,-1.3L1,0L0,1.3L-1,0Z", "circle"]},
          "legend": {"orient": "none", "legendX": 1518, "legendY": 485, "title": null, "symbolStrokeColor": "black", "symbolStrokeWidth": 3, "labelOffset": 75, "labelExpr": "'FEM, 𝑀 = ' + slice(datum.label, 1)",
            "encode": {"symbols": {"stroke": {"value": "black"}, "strokeWidth": {"value": 3}, "opacity": {"value": 1}}}}},
        "size": {"field": "F", "type": "nominal",
          "scale": {"type": "ordinal", "domain": ["m0", "m0.001", "m0.01", "m0.1", "m1"], "range": [800, 440, 1250, 800, 760]},
          "legend": {"orient": "none", "legendX": 1518, "legendY": 485, "title": null, "symbolStrokeColor": "black", "symbolStrokeWidth": 3, "labelOffset": 75, "labelExpr": "'FEM, 𝑀 = ' + slice(datum.label, 1)",
            "encode": {"symbols": {"stroke": {"value": "black"}, "strokeWidth": {"value": 3}, "opacity": {"value": 1}}}}}
      }
    },
    {
      "data": {"name": "asym"},
      "mark": {"type": "rule", "color": "#555555", "strokeWidth": 11, "strokeDash": [13, 15]},
      "encoding": {
        "x": {"field": "ca", "type": "quantitative", "axis": null},
        "y": {"field": "d", "type": "quantitative", "axis": null},
        "y2": {"field": "d2"}
      }
    }
  ]
}
